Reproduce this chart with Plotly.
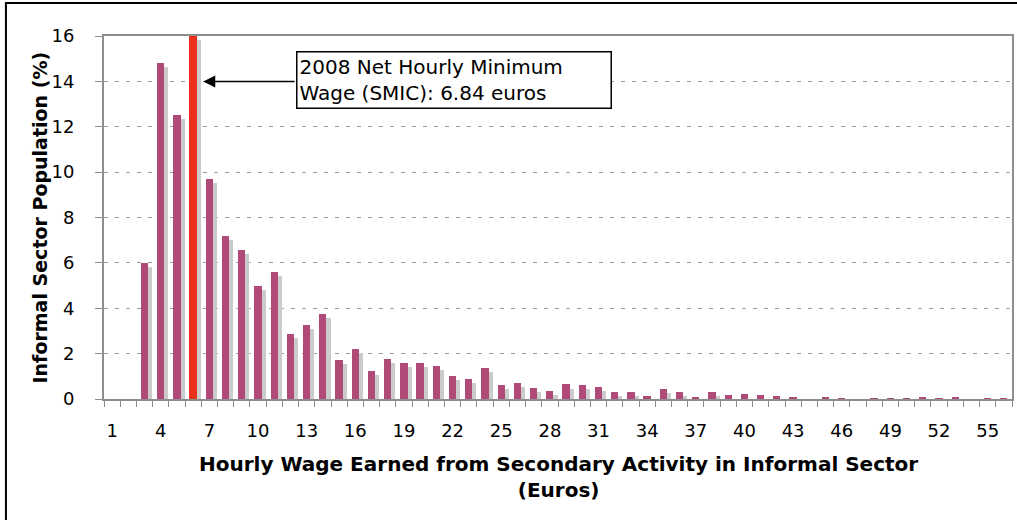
import plotly.graph_objects as go

# ===== データ =====
wage = list(range(1, 57))
share = [0, 0, 6.0, 14.8, 12.5, 16.0, 9.7, 7.2, 6.55, 5.0,
         5.58, 2.85, 3.27, 3.73, 1.72, 2.19, 1.23, 1.76, 1.57, 1.57,
         1.47, 1.01, 0.87, 1.37, 0.6, 0.7, 0.47, 0.37, 0.64, 0.6,
         0.55, 0.31, 0.33, 0.12, 0.44, 0.31, 0.08, 0.33, 0.17, 0.2,
         0.17, 0.12, 0.08, 0, 0.1, 0.03, 0, 0.03, 0.03, 0.03,
         0.1, 0.03, 0.06, 0, 0.03, 0.03]
smic_bin = 6
tick_labels = list(range(1, 56, 3))
y_ticks = list(range(0, 17, 2))

FONT = "Verdana, DejaVu Sans, sans-serif"
BAR = "#AF4A79"
RED = "#E8301A"
SHADOW = "#CBCBCB"
AXIS = "#8E8E8E"

colors = [RED if w == smic_bin else BAR for w in wage]

fig = go.Figure()

# 影（右下にずらす）
fig.add_trace(go.Bar(
    x=wage, y=share, base=-0.18,
    width=0.45, offset=0.02,
    marker=dict(color=SHADOW, line=dict(width=0)),
    hoverinfo="skip",
))

# 本体
fig.add_trace(go.Bar(
    x=wage, y=share,
    width=0.45, offset=-0.23,
    marker=dict(color=colors, line=dict(width=0)),
))

# 矢印
fig.add_annotation(
    x=6.62, y=14, xref="x", yref="y",
    ax=12.34, ay=14, axref="x", ayref="y",
    text="", showarrow=True,
    arrowhead=2, arrowsize=1.6, arrowwidth=1.5, arrowcolor="black",
)

# テキストボックス
fig.add_annotation(
    x=12.34, y=15.34, xref="x", yref="y",
    xanchor="left", yanchor="top",
    text="2008 Net Hourly Minimum<br>Wage (SMIC): 6.84 euros",
    showarrow=False, align="left",
    width=309, height=51, borderpad=2,
    bordercolor="black", borderwidth=1.5, bgcolor="white",
    font=dict(family=FONT, size=20, color="black"),
)

# 軸タイトル
fig.add_annotation(
    x=-0.0705, y=0.5, xref="paper", yref="paper",
    xanchor="center", yanchor="middle",
    text="<b>Informal Sector Population (%)</b>", textangle=-90,
    showarrow=False, font=dict(size=19),
)
fig.add_annotation(
    x=0.5, y=-0.215, xref="paper", yref="paper",
    xanchor="center", yanchor="middle",
    text="<b>Hourly Wage Earned from Secondary Activity in Informal Sector<br>(Euros)</b>",
    showarrow=False, font=dict(size=20),
)

# 外枠
fig.add_shape(
    type="rect", xref="paper", yref="paper",
    x0=-0.108, x1=1.05, y0=-0.5, y1=1.091,
    line=dict(color="black", width=2), layer="above",
)

fig.update_layout(
    width=1017, height=520,
    margin=dict(l=104, r=5, t=36, b=121),
    paper_bgcolor="white", plot_bgcolor="white",
    barmode="overlay", bargap=0,
    showlegend=False,
    font=dict(family=FONT, size=18, color="black"),
    xaxis=dict(
        range=[0.5, 56.5], automargin=False,
        tickmode="array", tickvals=tick_labels,
        ticks="", ticklabelstandoff=14,
        showline=True, mirror=True, linecolor=AXIS, linewidth=2,
        showgrid=False, zeroline=False,
        minor=dict(tickmode="array",
                   tickvals=[w - 0.5 for w in wage] + [56.5],
                   ticks="outside", ticklen=6, tickcolor=AXIS,
                   tickwidth=1, showgrid=False),
    ),
    yaxis=dict(
        range=[0, 16], automargin=False,
        tickmode="array", tickvals=y_ticks,
        ticks="outside", ticklen=7, tickcolor=AXIS,
        ticklabelstandoff=17,
        showline=True, mirror=True, linecolor=AXIS, linewidth=2,
        showgrid=True, gridcolor="#9A9A9A", gridwidth=1, griddash="4px,7px",
        zeroline=False,
    ),
)

# ページ余白を消して 1017x520 にぴったり合わせる
fig.write_html("out.html", config={"displayModeBar": False},
               post_script="document.body.style.margin='0';")
